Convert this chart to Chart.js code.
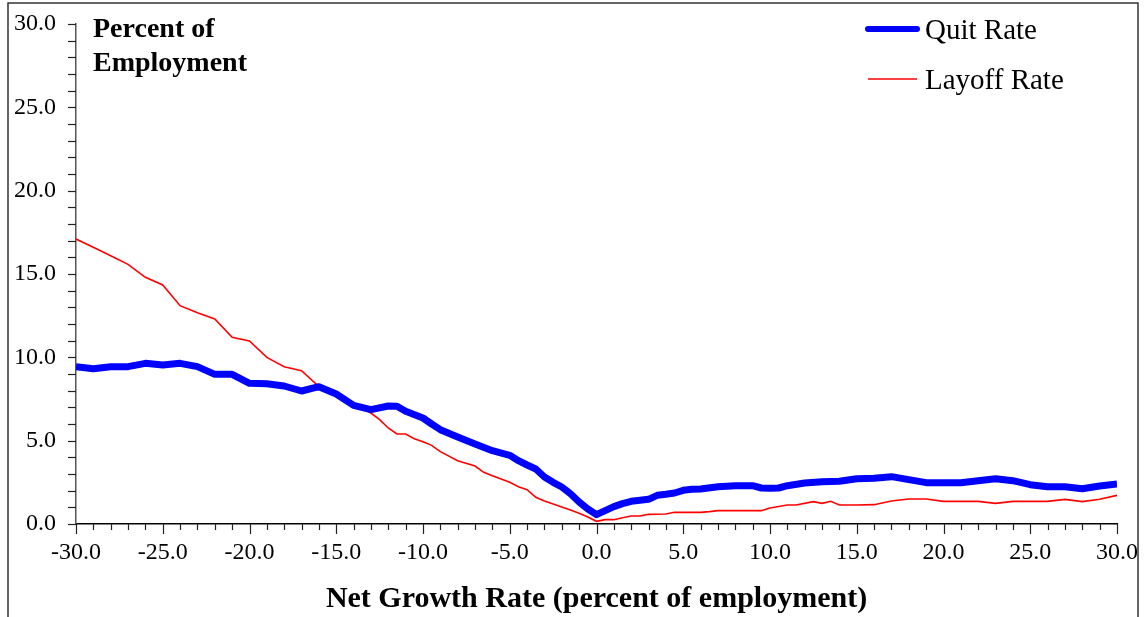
<!DOCTYPE html>
<html>
<head>
<meta charset="utf-8">
<script src="https://cdn.jsdelivr.net/npm/chart.js@4/dist/chart.umd.min.js"></script>
<style>
  html, body { margin: 0; padding: 0; background: #fff; }
  #wrap { position: relative; width: 1146px; height: 617px; }
</style>
</head>
<body>
<div id="wrap"><canvas id="c" width="1146" height="617"></canvas></div>
<script>
// ---- data ----
const quitGrowth = [-30,-29,-28,-27,-26,-25,-24,-23,-22,-21,-20,-19,-18,-17,-16,-15,-14,-13,-12,-11.5,-11,-10,-9.5,-9,-8,-7,-6,-5,-4.5,-4,-3.5,-3,-2.5,-2,-1.5,-1,-0.5,0,0.5,1,1.5,2,2.5,3,3.5,4,4.5,5,5.5,6,7,8,9,9.5,10,10.5,11,12,13,14,15,16,17,18,19,20,21,22,23,24,25,26,27,28,29,30];
const quitRate = [9.44,9.32,9.44,9.44,9.64,9.54,9.64,9.44,8.98,8.98,8.44,8.42,8.28,7.98,8.24,7.80,7.12,6.86,7.08,7.06,6.76,6.36,6.00,5.66,5.22,4.80,4.40,4.12,3.80,3.54,3.30,2.82,2.50,2.22,1.82,1.32,0.90,0.56,0.80,1.04,1.22,1.36,1.42,1.48,1.72,1.78,1.86,2.02,2.08,2.10,2.24,2.30,2.30,2.16,2.14,2.16,2.30,2.46,2.54,2.56,2.72,2.74,2.84,2.66,2.48,2.48,2.48,2.60,2.72,2.60,2.36,2.24,2.24,2.12,2.28,2.40];

const layoffGrowth = [-30,-29,-28,-27,-26,-25,-24,-23,-22,-21,-20,-19,-18,-17,-16,-15,-14,-13,-12.5,-12,-11.5,-11,-10.5,-10,-9.5,-9,-8,-7,-6.5,-6,-5,-4.5,-4,-3.5,-3,-2.5,-2,-1.5,-1,-0.5,0,0.5,1,1.5,2,2.5,3,4,4.5,6,6.5,7,9.5,10,11,11.5,12.5,13,13.5,14,15,16,17,18,19,20,22,23,24,26,27,28,29,30];
const layoffRate = [17.1,16.6,16.1,15.58,14.8,14.34,13.1,12.68,12.3,11.2,10.98,10.0,9.44,9.2,8.24,7.72,7.16,6.66,6.26,5.76,5.4,5.4,5.12,4.94,4.72,4.34,3.8,3.48,3.1,2.9,2.5,2.24,2.06,1.6,1.38,1.2,1.02,0.84,0.64,0.42,0.16,0.26,0.26,0.38,0.48,0.48,0.58,0.6,0.7,0.7,0.74,0.8,0.8,0.96,1.14,1.14,1.34,1.24,1.36,1.14,1.14,1.16,1.38,1.5,1.5,1.36,1.36,1.24,1.36,1.36,1.48,1.34,1.48,1.72];

const seriesNames = ['Quit Rate', 'Layoff Rate'];
const yAxisTitle = ['Percent of', 'Employment'];
const xAxisTitle = 'Net Growth Rate (percent of employment)';
const xMin = -30, xMax = 30, yMin = 0, yMax = 30;

const SERIF = '"Liberation Serif", "Times New Roman", serif';

const toPts = (xs, ys) => xs.map((x, i) => ({ x: x, y: ys[i] }));

// custom tick marks, legend, inner title and frame
const decor = {
  id: 'decor',
  afterDraw(chart) {
    const ctx = chart.ctx;
    const xs = chart.scales.x, ys = chart.scales.y;
    const ca = chart.chartArea;
    ctx.save();
    // ticks on x axis
    ctx.strokeStyle = '#222';
    ctx.lineWidth = 1.2;
    for (let v = xMin; v <= xMax; v += 1) {
      const px = Math.round(xs.getPixelForValue(v)) + 0.5;
      const len = (v % 5 === 0) ? 10 : 6;
      ctx.beginPath();
      ctx.moveTo(px, ca.bottom);
      ctx.lineTo(px, ca.bottom + len);
      ctx.stroke();
    }
    // ticks on y axis
    for (let v = yMin; v <= yMax; v += 1) {
      const py = Math.round(ys.getPixelForValue(v)) + 0.5;
      ctx.beginPath();
      ctx.moveTo(ca.left, py);
      ctx.lineTo(ca.left - 8, py);
      ctx.stroke();
    }
    // inner y-axis title
    ctx.fillStyle = '#000';
    ctx.font = 'bold 28px ' + SERIF;
    ctx.textAlign = 'left';
    ctx.textBaseline = 'alphabetic';
    ctx.fillText(yAxisTitle[0], 93, 37);
    ctx.fillText(yAxisTitle[1], 93, 71);
    // legend
    const ds = chart.data.datasets;
    const legendY = [29, 79];
    ctx.font = '29px ' + SERIF;
    ctx.textBaseline = 'middle';
    ds.forEach((d, i) => {
      ctx.strokeStyle = d.borderColor;
      ctx.lineWidth = i === 0 ? 6 : 1.6;
      ctx.lineCap = i === 0 ? 'round' : 'butt';
      ctx.beginPath();
      ctx.moveTo(868, legendY[i]);
      ctx.lineTo(917, legendY[i]);
      ctx.stroke();
      ctx.fillStyle = '#000';
      ctx.fillText(d.label, 925, legendY[i] + 2);
    });
    // outer frame
    ctx.lineCap = 'butt';
    ctx.strokeStyle = '#333';
    ctx.lineWidth = 1.5;
    ctx.strokeRect(8, 3, 1130, 700);
    ctx.restore();
  }
};

new Chart(document.getElementById('c'), {
  type: 'line',
  data: {
    datasets: [
      {
        label: seriesNames[0],
        data: toPts(quitGrowth, quitRate),
        borderColor: '#0000FF',
        borderWidth: 7,
        borderJoinStyle: 'round',
        pointRadius: 0,
        tension: 0,
        fill: false
      },
      {
        label: seriesNames[1],
        data: toPts(layoffGrowth, layoffRate),
        borderColor: '#FF0000',
        borderWidth: 1.6,
        pointRadius: 0,
        tension: 0,
        fill: false
      }
    ]
  },
  plugins: [decor],
  options: {
    responsive: false,
    animation: false,
    layout: { padding: { top: 24, right: 29, bottom: 0, left: 0 } },
    plugins: {
      legend: { display: false },
      tooltip: { enabled: false },
      title: { display: false }
    },
    scales: {
      x: {
        type: 'linear',
        min: xMin, max: xMax,
        afterFit(s) { s.height = 93; s.paddingLeft = 0; s.paddingRight = 0; },
        grid: { display: false, drawTicks: false },
        border: { display: true, color: '#000', width: 1.5 },
        ticks: {
          stepSize: 5,
          autoSkip: false,
          maxRotation: 0,
          padding: 14,
          color: '#000',
          font: { family: SERIF, size: 24 },
          callback: (v) => Number(v).toFixed(1)
        },
        title: {
          display: true,
          text: xAxisTitle,
          color: '#000',
          font: { family: SERIF, size: 30, weight: 'bold' },
          padding: { top: 0, bottom: 0 }
        }
      },
      y: {
        type: 'linear',
        min: yMin, max: yMax,
        afterFit(s) { s.width = 76; s.paddingTop = 0; s.paddingBottom = 0; },
        grid: { display: false, drawTicks: false },
        border: { display: true, color: '#555', width: 1.5 },
        ticks: {
          stepSize: 5,
          padding: 20,
          color: '#000',
          font: { family: SERIF, size: 24 },
          callback: (v) => Number(v).toFixed(1)
        }
      }
    }
  }
});
</script>
</body>
</html>
